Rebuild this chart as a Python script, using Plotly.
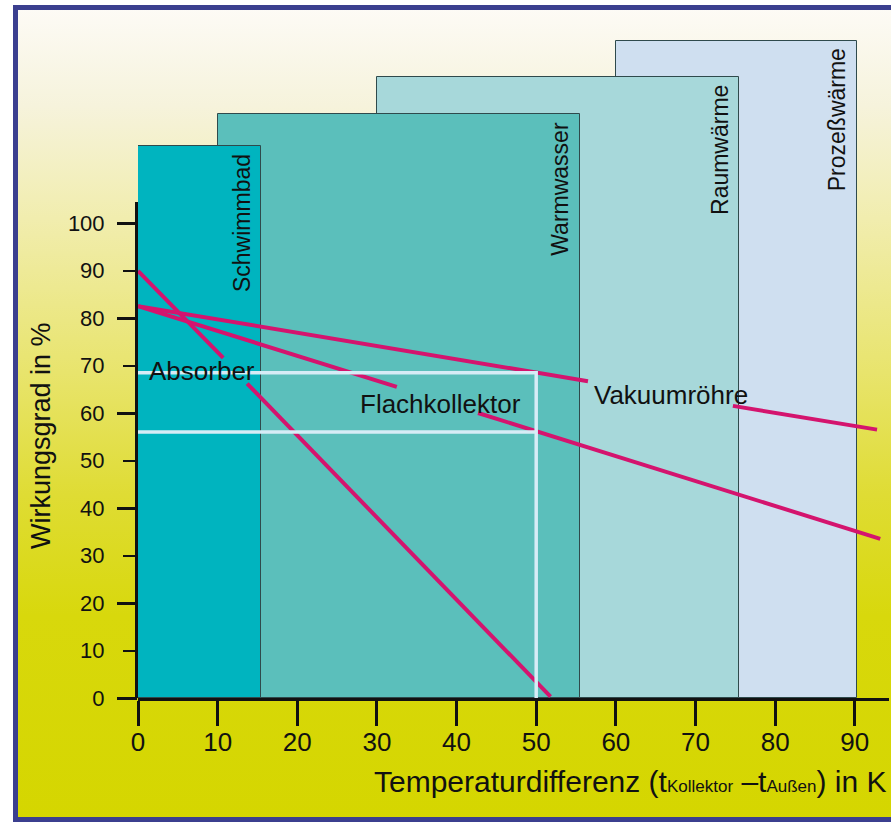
import base64
import plotly.graph_objects as go

# ---------------- data ----------------
regions = ["Schwimmbad", "Warmwasser", "Raumwärme", "Prozeßwärme"]
region_start = [0, 10, 30, 60]          # K
region_end = [15.5, 55.5, 75.5, 90.3]   # K
region_top = [116.3, 123.0, 130.8, 138.4]
region_colors = ["#00b4bf", "#5bbfbb", "#a7d8da", "#cfdff0"]

absorber_dt = [0, 10.7, None, 13.7, 51.8]
absorber_eta = [89.9, 71.6, None, 66.2, 0.3]
flach_dt = [0, 32.5, None, 42.7, 93.2]
flach_eta = [82.5, 65.5, None, 60.0, 33.5]
vakuum_dt = [0, 56.5, None, 74.7, 92.8]
vakuum_eta = [82.5, 66.7, None, 61.5, 56.5]

# efficiency read-off at 50 K (Vakuumröhre 68.5 %, Flachkollektor 56 %)
guide_dt = [0, 50, 50, None, 0, 50]
guide_eta = [68.5, 68.5, 0, None, 56.0, 56.0]

curve_labels = ["Absorber", "Flachkollektor", "Vakuumröhre"]
label_dt = [1.1, 27.6, 57.0]
label_eta = [68.8, 62.0, 63.8]

x_ticks = [0, 10, 20, 30, 40, 50, 60, 70, 80, 90]
y_ticks = [0, 10, 20, 30, 40, 50, 60, 70, 80, 90, 100]

# ---------------- geometry ----------------
W, H = 891, 823
ML, MR, MT, MB = 138, 2, 30, 125
PW, PH = W - ML - MR, H - MT - MB
X_MAX = 94.3
PX_PER_Y = 4.75
Y_TOP = PH / PX_PER_Y
AX_TOP = 104.5

FONT = "Liberation Sans, Arial, Helvetica, sans-serif"
MAGENTA = "#d4146e"
GUIDE = "#d6ecf6"


def px_x(p):
    return (p - ML) / PW


def px_y(p):
    return (H - MB - p) / PH


fig = go.Figure()

# application ranges (drawn back to front)
for i in reversed(range(len(regions))):
    s, e = region_start[i], region_end[i]
    fig.add_trace(go.Bar(
        x=[(s + e) / 2], width=[e - s], y=[region_top[i]], base=0,
        marker=dict(color=region_colors[i], line=dict(color="#2f4a4c", width=1)),
        xaxis="x", yaxis="y", showlegend=False, hoverinfo="skip", name=regions[i]))

# efficiency curves (on the visible efficiency axis, same scale)
for xs, ys, nm in [(absorber_dt, absorber_eta, "Absorber"),
                   (flach_dt, flach_eta, "Flachkollektor"),
                   (vakuum_dt, vakuum_eta, "Vakuumröhre")]:
    fig.add_trace(go.Scatter(x=xs, y=ys, mode="lines", name=nm,
                             line=dict(color=MAGENTA, width=4),
                             connectgaps=False, showlegend=False,
                             xaxis="x", yaxis="y2"))

# 50 K read-off guides (drawn above the curves)
fig.add_trace(go.Scatter(x=guide_dt, y=guide_eta, mode="lines",
                         line=dict(color=GUIDE, width=3.5),
                         connectgaps=False, showlegend=False,
                         xaxis="x", yaxis="y3", hoverinfo="skip"))

annotations = []
for i, r in enumerate(regions):
    annotations.append(dict(
        text=r, x=region_end[i], y=region_top[i], xref="x", yref="y",
        xanchor="right", yanchor="top", xshift=-5, yshift=-6,
        textangle=-90, showarrow=False,
        font=dict(family=FONT, size=23, color="#111111")))

for t, xv, yv in zip(curve_labels, label_dt, label_eta):
    annotations.append(dict(
        text=t, x=xv, y=yv, xref="x", yref="y", xanchor="left",
        yanchor="middle", showarrow=False,
        font=dict(family=FONT, size=26, color="#111111")))

annotations.append(dict(
    text="Wirkungsgrad in %", textangle=-90, xref="paper", yref="paper",
    x=px_x(41), y=px_y(435), xanchor="center", yanchor="middle",
    showarrow=False, font=dict(family=FONT, size=27, color="#111111")))

annotations.append(dict(
    text=('Temperaturdifferenz (t<span style="font-size:17px">Kollektor</span>'
          ' –t<span style="font-size:17px">Außen</span>) in K'),
    xref="paper", yref="paper", x=px_x(889), y=px_y(781),
    xanchor="right", yanchor="middle", showarrow=False,
    font=dict(family=FONT, size=30, color="#111111")))

# background gradient + frame
svg = (
    '<svg xmlns="http://www.w3.org/2000/svg" width="891" height="823" '
    'viewBox="0 0 891 823" preserveAspectRatio="none">'
    '<defs><linearGradient id="g" x1="0" y1="0" x2="0" y2="1">'
    '<stop offset="0" stop-color="#fdfbf6"/>'
    '<stop offset="0.12" stop-color="#f6f3dc"/>'
    '<stop offset="0.26" stop-color="#f1edae"/>'
    '<stop offset="0.45" stop-color="#e8e46c"/>'
    '<stop offset="0.6" stop-color="#dfdc34"/>'
    '<stop offset="0.75" stop-color="#d8d80c"/>'
    '<stop offset="1" stop-color="#d5d600"/>'
    '</linearGradient></defs>'
    '<rect width="891" height="823" fill="#ffffff"/>'
    '<rect x="15.5" y="7.5" width="900" height="812" fill="url(#g)" '
    'stroke="#3b3f8f" stroke-width="5"/></svg>')
src = "data:image/svg+xml;base64," + base64.b64encode(svg.encode("utf-8")).decode()

fig.update_layout(
    template="none",
    width=W, height=H,
    margin=dict(l=ML, r=MR, t=MT, b=MB, pad=0),
    paper_bgcolor="#ffffff", plot_bgcolor="rgba(0,0,0,0)",
    barmode="overlay", bargap=0, showlegend=False,
    font=dict(family=FONT, color="#111111"),
    images=[dict(source=src, xref="paper", yref="paper",
                 x=px_x(0), y=px_y(0), sizex=W / PW, sizey=H / PH,
                 xanchor="left", yanchor="top", sizing="stretch",
                 layer="below")],
    annotations=annotations,
    xaxis=dict(domain=[0, 1], range=[0, X_MAX], anchor="y",
               showline=True, linecolor="#111111", linewidth=3,
               ticks="outside", ticklen=25, tickwidth=3, tickcolor="#111111",
               tickvals=x_ticks, tickfont=dict(size=26, family=FONT, color="#111111"),
               ticklabelstandoff=-6, showgrid=False, zeroline=False,
               automargin=False),
    yaxis=dict(domain=[0, 1], range=[0, Y_TOP], anchor="x", visible=False,
               showgrid=False, zeroline=False, automargin=False),
    yaxis2=dict(domain=[0, AX_TOP / Y_TOP], range=[0, AX_TOP], anchor="x",
                showline=True, linecolor="#111111", linewidth=3,
                ticks="outside", ticklen=12, tickwidth=1.5, tickcolor="#111111",
                tickvals=y_ticks, tickfont=dict(size=22, family=FONT, color="#111111"),
                ticklabelstandoff=14, showgrid=False, zeroline=False,
                automargin=False),
    yaxis3=dict(overlaying="y2", range=[0, AX_TOP], anchor="x",
                ticks="outside", ticklen=20, tickwidth=3, tickcolor="#111111",
                tickvals=y_ticks[::2], showticklabels=False, showline=False,
                showgrid=False, zeroline=False, automargin=False),
)

fig.write_html(
    "out.html",
    config={"displayModeBar": False},
    post_script=("document.body.style.margin='0';"
                 "document.body.style.padding='0';"
                 "document.body.style.overflow='hidden';"))
